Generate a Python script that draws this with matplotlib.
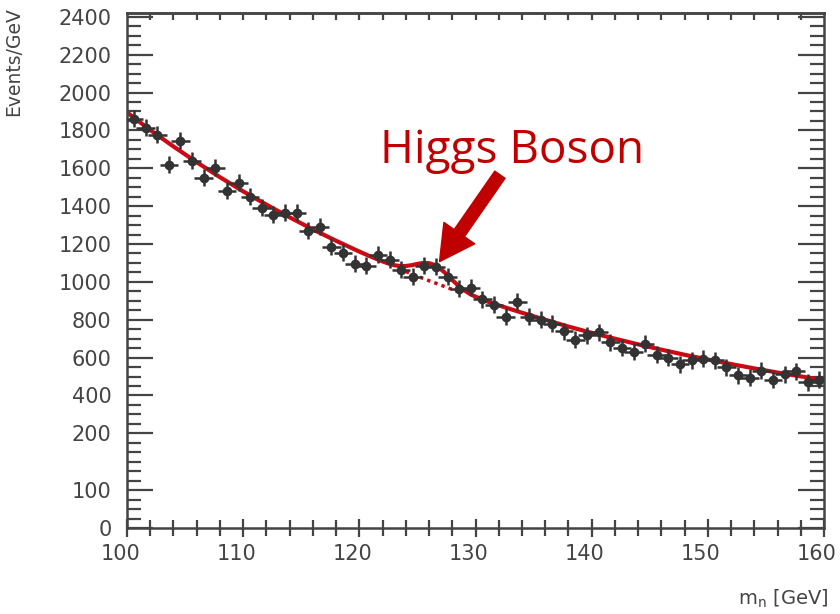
import matplotlib.pyplot as plt
import matplotlib.transforms as mtransforms
import numpy as np
from matplotlib.ticker import MultipleLocator, FixedLocator

# bin centres (GeV) and measured events/GeV
mass = np.arange(100.6, 160, 1.0)
events = [1862, 1814, 1777, 1619, 1746, 1640, 1550, 1603, 1482, 1524,
          1450, 1392, 1355, 1366, 1366, 1271, 1292, 1186, 1155, 1097,
          1086, 1144, 1118, 1065, 1028, 1086, 1081, 1028, 965, 970,
          907, 880, 817, 896, 817, 801, 780, 738, 695, 717,
          733, 680, 653, 632, 674, 616, 600, 564, 585, 595,
          585, 548, 506, 495, 532, 484, 511, 527, 469, 484]
mass_err = 0.8
events_err = 45

# signal + background fit
fit_x = [100, 102, 104, 106, 108, 110, 112, 114, 116, 118, 120, 121, 122,
         122.5, 123, 123.5, 124, 124.5, 125, 125.5, 126, 126.5, 127, 127.5,
         128, 128.5, 129, 129.5, 130, 131, 132, 134, 136, 138, 140, 142,
         144, 146, 148, 150, 152, 154, 156, 158, 160]
fit_y = [1895, 1802, 1715, 1632, 1553, 1478, 1408, 1341, 1277, 1217, 1160,
         1133, 1108, 1097, 1088, 1084, 1084, 1088, 1095, 1100, 1099, 1089,
         1068, 1041, 1010, 981, 957, 937, 922, 897, 876, 837, 800, 764, 731,
         700, 670, 642, 615, 590, 566, 543, 521, 501, 481]

# background only (dotted, under the bump)
bkg_x = [124, 124.5, 125, 125.5, 126, 126.5, 127, 127.5, 128, 128.5]
bkg_y = [1055, 1042, 1030, 1018, 1006, 995, 983, 972, 960, 949]

# y tick labels (bottom of the axis is squeezed like in the original)
ytick_pos = [-300, -100] + list(range(200, 2401, 200))
ytick_lab = ['0', '100'] + [str(v) for v in range(200, 2401, 200)]

red = '#cc0a14'
dark = '#333333'
axc = '#444444'

fig = plt.figure(figsize=(8.4, 6.14), dpi=100)
ax = fig.add_axes([0.1512, 0.140, 0.8298, 0.8388])

ax.plot(fit_x, fit_y, color=red, lw=3, zorder=2, solid_capstyle='round')
ax.plot(bkg_x, bkg_y, color=red, lw=2.5, ls=(0, (1, 1.2)), zorder=2)
ax.errorbar(mass, events, xerr=mass_err, yerr=events_err, fmt='o',
            color=dark, ms=6, elinewidth=1.8, capsize=0, zorder=3)

ax.set_xlim(100, 160)
ax.set_ylim(-300, 2420)

ax.xaxis.set_major_locator(MultipleLocator(10))
ax.xaxis.set_minor_locator(MultipleLocator(2))
ax.yaxis.set_major_locator(FixedLocator(ytick_pos))
ax.set_yticklabels(ytick_lab)
ax.yaxis.set_minor_locator(MultipleLocator(50))

ax.tick_params(axis='x', which='major', direction='inout', length=13,
               width=1.6, color=axc, labelsize=15, labelcolor=axc, pad=5,
               top=False)
ax.tick_params(axis='x', which='minor', direction='inout', length=11,
               width=1.6, color=axc, top=False)
ax.tick_params(axis='y', which='major', direction='in', length=19,
               width=1.6, color=axc, labelsize=15, labelcolor=axc, pad=11,
               left=True, right=True)
ax.tick_params(axis='y', which='minor', direction='in', length=10,
               width=1.6, color=axc, left=True, right=True)

# x labels sit a little left of their ticks in the original
shift = mtransforms.ScaledTranslation(-5 / 72, 0, fig.dpi_scale_trans)
for lab in ax.get_xticklabels():
    lab.set_transform(lab.get_transform() + shift)

top = ax.secondary_xaxis('top')
top.set_xticks(np.arange(102, 160, 2))
top.tick_params(direction='in', length=5, width=1.6, color=axc,
                labeltop=False)
top.spines['top'].set_color(axc)
top.spines['top'].set_linewidth(1.8)

for s in ax.spines.values():
    s.set_color(axc)
    s.set_linewidth(1.8)

ax.set_ylabel('Events/GeV', fontsize=13.5, color=axc, loc='top')
ax.yaxis.set_label_coords(-0.149, 1.012)
ax.set_xlabel(r'm$_\mathregular{n}$ [GeV]', fontsize=14, color=axc,
              loc='right')
ax.xaxis.set_label_coords(1.006, -0.115)

ax.text(133.14, 1630, 'Higgs Boson', fontsize=33, color='#c00000',
        family='Open Sans', ha='center', va='baseline')
ax.annotate('', xy=(126.9, 1107), xytext=(132.1, 1566),
            arrowprops=dict(width=9, headwidth=27, headlength=25,
                            color='#c00000', shrink=0))

fig.savefig('out.png', dpi=100)
